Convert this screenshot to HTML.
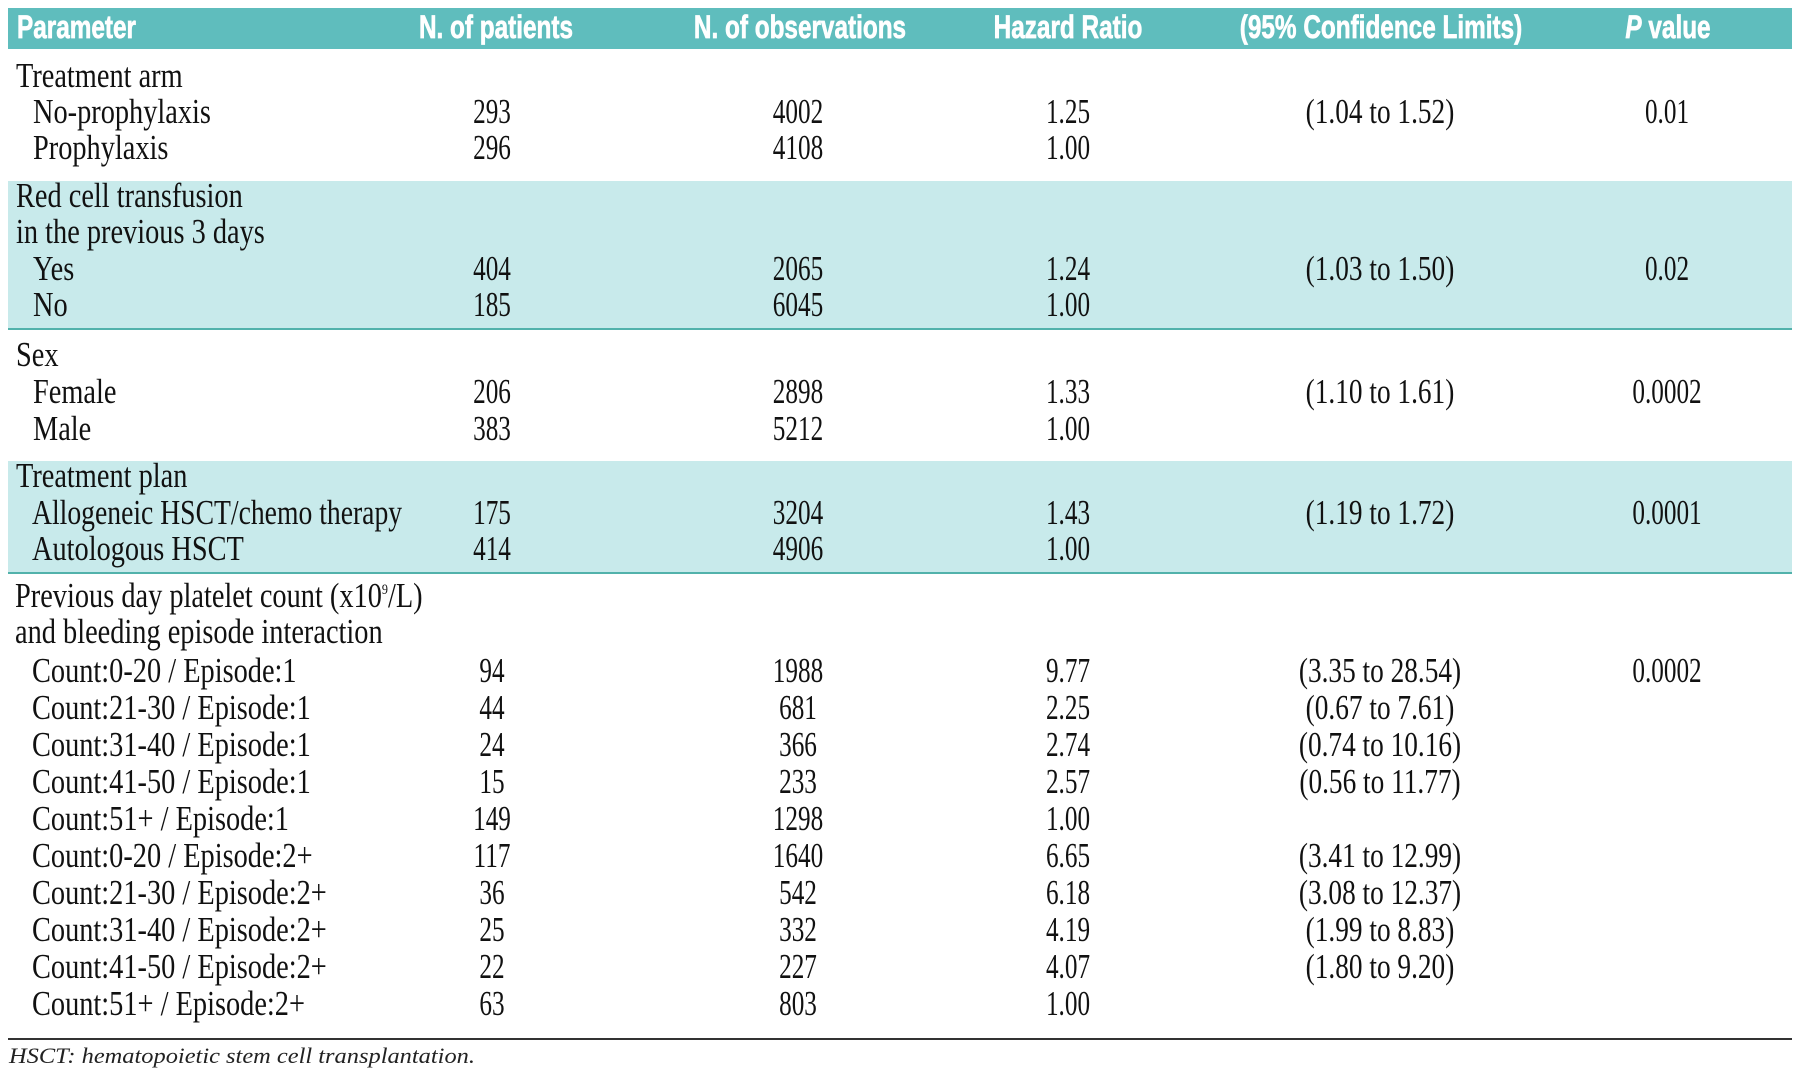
<!DOCTYPE html>
<html>
<head>
<meta charset="utf-8">
<style>
  html, body { margin:0; padding:0; background:#ffffff; }
  body { width:1800px; height:1079px; position:relative; overflow:hidden; }
  .hdr { position:absolute; left:8px; top:8px; width:1784px; height:41px; background:#5fbdbd; }
  .band { position:absolute; left:8px; width:1784px; background:#c8eaeb; }
  .bline { position:absolute; left:8px; width:1784px; height:2px; background:#52b2ab; }
  .h { position:absolute; font-family:"Liberation Sans", Arial, sans-serif; font-weight:bold; color:#fff;
       font-size:32px; line-height:32px; white-space:nowrap; -webkit-text-stroke:0.7px #fff; }
  .hc { width:400px; text-align:center; transform:scaleX(0.76); transform-origin:50% 50%; }
  .hl { transform:scaleX(0.76); transform-origin:0 50%; }
  .t { position:absolute; font-family:"Liberation Serif", "Times New Roman", serif; color:#111;
       font-size:35px; line-height:35px; white-space:nowrap; }
  .l { transform:scaleX(0.81); transform-origin:0 50%; }
  .c { width:300px; text-align:center; transform:scaleX(0.72); transform-origin:50% 50%; }
  .ci { width:400px; text-align:center; transform:scaleX(0.78); transform-origin:50% 50%; }
  .foot { position:absolute; left:9px; top:1045px; font-family:"Liberation Serif", serif; font-style:italic;
          font-size:22px; line-height:22px; color:#222; white-space:nowrap; transform:scaleX(1.11); transform-origin:0 50%; }
</style>
</head>
<body>
<div class="hdr"></div>
<div class="h hl" style="left:17px;top:11px;">Parameter</div>
<div class="h hc" style="left:296px;top:11px;">N. of patients</div>
<div class="h hc" style="left:600px;top:11px;">N. of observations</div>
<div class="h hc" style="left:868px;top:11px;">Hazard Ratio</div>
<div class="h hc" style="left:1181px;top:11px;">(95% Confidence Limits)</div>
<div class="h hc" style="left:1468px;top:11px;"><i>P</i> value</div>

<div class="band" style="top:181px;height:148px;"></div>
<div class="bline" style="top:328px;"></div>
<div class="band" style="top:461px;height:111px;"></div>
<div class="bline" style="top:572px;"></div>
<div style="position:absolute;left:8px;top:1038px;width:1784px;height:2px;background:#333;"></div>

<!-- Treatment arm -->
<div class="t l" style="left:16px;top:58px;">Treatment arm</div>
<div class="t l" style="left:33px;top:94px;">No-prophylaxis</div>
<div class="t c" style="left:342px;top:94px;">293</div>
<div class="t c" style="left:648px;top:94px;">4002</div>
<div class="t c" style="left:918px;top:94px;">1.25</div>
<div class="t ci" style="left:1180px;top:94px;">(1.04 to 1.52)</div>
<div class="t c" style="left:1517px;top:94px;">0.01</div>
<div class="t l" style="left:33px;top:130px;">Prophylaxis</div>
<div class="t c" style="left:342px;top:130px;">296</div>
<div class="t c" style="left:648px;top:130px;">4108</div>
<div class="t c" style="left:918px;top:130px;">1.00</div>

<!-- Red cell -->
<div class="t l" style="left:16px;top:178px;">Red cell transfusion</div>
<div class="t l" style="left:16px;top:214px;">in the previous 3 days</div>
<div class="t l" style="left:33px;top:251px;">Yes</div>
<div class="t c" style="left:342px;top:251px;">404</div>
<div class="t c" style="left:648px;top:251px;">2065</div>
<div class="t c" style="left:918px;top:251px;">1.24</div>
<div class="t ci" style="left:1180px;top:251px;">(1.03 to 1.50)</div>
<div class="t c" style="left:1517px;top:251px;">0.02</div>
<div class="t l" style="left:33px;top:287px;">No</div>
<div class="t c" style="left:342px;top:287px;">185</div>
<div class="t c" style="left:648px;top:287px;">6045</div>
<div class="t c" style="left:918px;top:287px;">1.00</div>

<!-- Sex -->
<div class="t l" style="left:16px;top:337px;">Sex</div>
<div class="t l" style="left:33px;top:374px;">Female</div>
<div class="t c" style="left:342px;top:374px;">206</div>
<div class="t c" style="left:648px;top:374px;">2898</div>
<div class="t c" style="left:918px;top:374px;">1.33</div>
<div class="t ci" style="left:1180px;top:374px;">(1.10 to 1.61)</div>
<div class="t c" style="left:1517px;top:374px;">0.0002</div>
<div class="t l" style="left:33px;top:411px;">Male</div>
<div class="t c" style="left:342px;top:411px;">383</div>
<div class="t c" style="left:648px;top:411px;">5212</div>
<div class="t c" style="left:918px;top:411px;">1.00</div>

<!-- Treatment plan -->
<div class="t l" style="left:16px;top:458px;">Treatment plan</div>
<div class="t l" style="left:32px;top:495px;transform:scaleX(0.79);">Allogeneic HSCT/chemo therapy</div>
<div class="t c" style="left:342px;top:495px;">175</div>
<div class="t c" style="left:648px;top:495px;">3204</div>
<div class="t c" style="left:918px;top:495px;">1.43</div>
<div class="t ci" style="left:1180px;top:495px;">(1.19 to 1.72)</div>
<div class="t c" style="left:1517px;top:495px;">0.0001</div>
<div class="t l" style="left:32px;top:531px;">Autologous HSCT</div>
<div class="t c" style="left:342px;top:531px;">414</div>
<div class="t c" style="left:648px;top:531px;">4906</div>
<div class="t c" style="left:918px;top:531px;">1.00</div>

<!-- Platelet -->
<div class="t l" style="left:15px;top:578px;">Previous day platelet count (x10<sup style="font-size:15px;line-height:0;vertical-align:13px;">9</sup>/L)</div>
<div class="t l" style="left:15px;top:614px;">and bleeding episode interaction</div>

<div class="t l" style="left:32px;top:653px;">Count:0-20 / Episode:1</div>
<div class="t c" style="left:342px;top:653px;">94</div>
<div class="t c" style="left:648px;top:653px;">1988</div>
<div class="t c" style="left:918px;top:653px;">9.77</div>
<div class="t ci" style="left:1180px;top:653px;">(3.35 to 28.54)</div>
<div class="t c" style="left:1517px;top:653px;">0.0002</div>

<div class="t l" style="left:32px;top:690px;">Count:21-30 / Episode:1</div>
<div class="t c" style="left:342px;top:690px;">44</div>
<div class="t c" style="left:648px;top:690px;">681</div>
<div class="t c" style="left:918px;top:690px;">2.25</div>
<div class="t ci" style="left:1180px;top:690px;">(0.67 to 7.61)</div>

<div class="t l" style="left:32px;top:727px;">Count:31-40 / Episode:1</div>
<div class="t c" style="left:342px;top:727px;">24</div>
<div class="t c" style="left:648px;top:727px;">366</div>
<div class="t c" style="left:918px;top:727px;">2.74</div>
<div class="t ci" style="left:1180px;top:727px;">(0.74 to 10.16)</div>

<div class="t l" style="left:32px;top:764px;">Count:41-50 / Episode:1</div>
<div class="t c" style="left:342px;top:764px;">15</div>
<div class="t c" style="left:648px;top:764px;">233</div>
<div class="t c" style="left:918px;top:764px;">2.57</div>
<div class="t ci" style="left:1180px;top:764px;">(0.56 to 11.77)</div>

<div class="t l" style="left:32px;top:801px;">Count:51+ / Episode:1</div>
<div class="t c" style="left:342px;top:801px;">149</div>
<div class="t c" style="left:648px;top:801px;">1298</div>
<div class="t c" style="left:918px;top:801px;">1.00</div>

<div class="t l" style="left:32px;top:838px;">Count:0-20 / Episode:2+</div>
<div class="t c" style="left:342px;top:838px;">117</div>
<div class="t c" style="left:648px;top:838px;">1640</div>
<div class="t c" style="left:918px;top:838px;">6.65</div>
<div class="t ci" style="left:1180px;top:838px;">(3.41 to 12.99)</div>

<div class="t l" style="left:32px;top:875px;">Count:21-30 / Episode:2+</div>
<div class="t c" style="left:342px;top:875px;">36</div>
<div class="t c" style="left:648px;top:875px;">542</div>
<div class="t c" style="left:918px;top:875px;">6.18</div>
<div class="t ci" style="left:1180px;top:875px;">(3.08 to 12.37)</div>

<div class="t l" style="left:32px;top:912px;">Count:31-40 / Episode:2+</div>
<div class="t c" style="left:342px;top:912px;">25</div>
<div class="t c" style="left:648px;top:912px;">332</div>
<div class="t c" style="left:918px;top:912px;">4.19</div>
<div class="t ci" style="left:1180px;top:912px;">(1.99 to 8.83)</div>

<div class="t l" style="left:32px;top:949px;">Count:41-50 / Episode:2+</div>
<div class="t c" style="left:342px;top:949px;">22</div>
<div class="t c" style="left:648px;top:949px;">227</div>
<div class="t c" style="left:918px;top:949px;">4.07</div>
<div class="t ci" style="left:1180px;top:949px;">(1.80 to 9.20)</div>

<div class="t l" style="left:32px;top:986px;">Count:51+ / Episode:2+</div>
<div class="t c" style="left:342px;top:986px;">63</div>
<div class="t c" style="left:648px;top:986px;">803</div>
<div class="t c" style="left:918px;top:986px;">1.00</div>

<div class="foot">HSCT: hematopoietic stem cell transplantation.</div>
</body>
</html>
